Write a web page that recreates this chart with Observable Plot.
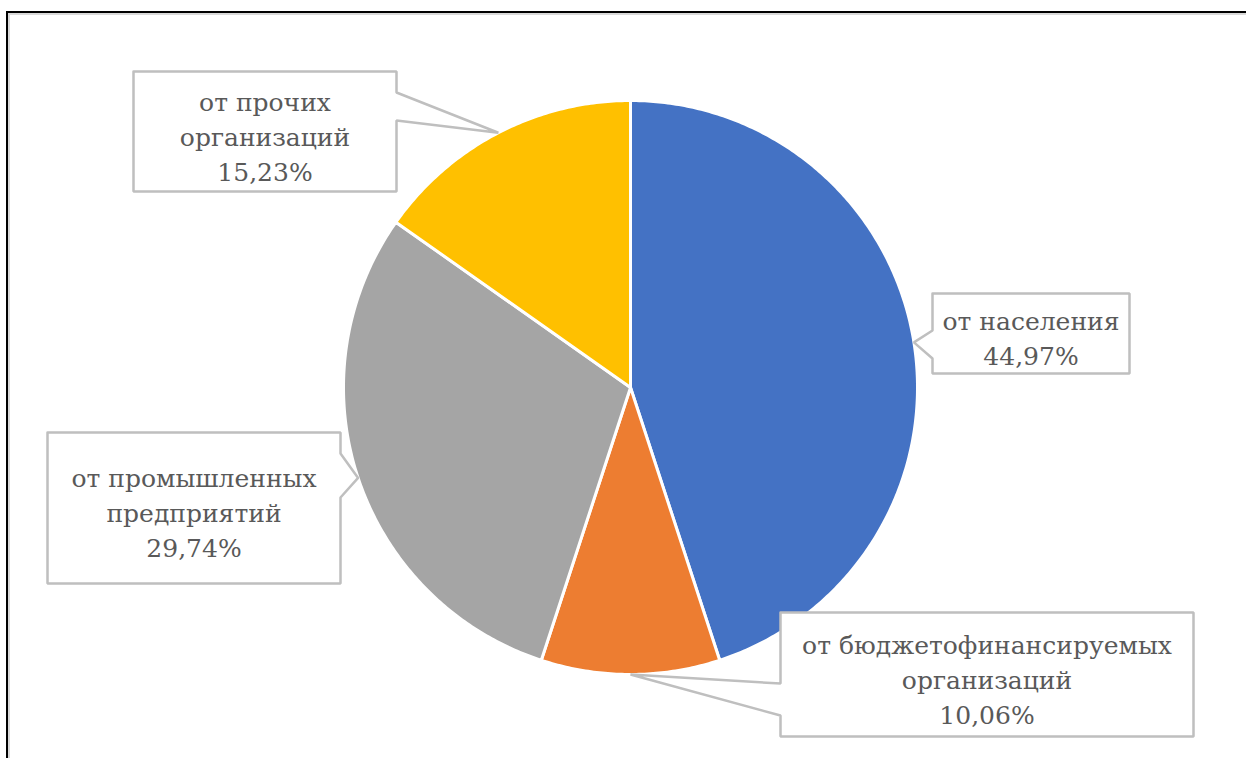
<!DOCTYPE html>
<html>
<head>
<meta charset="utf-8">
<script src="https://cdn.jsdelivr.net/npm/d3@7"></script>
<script src="https://cdn.jsdelivr.net/npm/@observablehq/plot@0.6"></script>
<style>
  html, body { margin: 0; padding: 0; background: #fff; overflow: hidden; }
  #wrap { position: relative; width: 1246px; height: 758px; }
  #frame { position: absolute; left: 6px; top: 11px; width: 1300px; height: 800px;
           border-left: 2px solid #000; border-top: 2px solid #000;
           box-shadow: inset 2px 2px 0 #d9d9d9; pointer-events: none; }
  #chart { position: absolute; left: 0; top: 0; }
  #chart svg text { font-family: "DejaVu Serif", serif !important; }
</style>
</head>
<body>
<div id="wrap">
  <div id="chart"></div>
  <div id="frame"></div>
</div>
<script>
// ---- data ----
const categories = ["от населения", "от бюджетофинансируемых организаций", "от промышленных предприятий", "от прочих организаций"];
const labelLines = ["от населения", "от бюджетофинансируемых\nорганизаций", "от промышленных\nпредприятий", "от прочих\nорганизаций"];
const values = [44.97, 10.06, 29.74, 15.23];
const colors = ["#4472C4", "#ED7D31", "#A5A5A5", "#FFC000"];

// ---- layout ----
const W = 1246, H = 758;
const cx = 630, cy = 387, R = 287;
const boxes = [
  {l: 932, t: 293, r: 1129, b: 373, side: "left",  p0: 330, p1: 358},
  {l: 780, t: 612, r: 1193, b: 736, side: "left",  p0: 683, p1: 715},
  {l: 47,  t: 432, r: 340,  b: 583, side: "right", p0: 453, p1: 497},
  {l: 133, t: 71,  r: 396,  b: 191, side: "right", p0: 92,  p1: 120}
];

const pie = d3.pie().sort(null).value(d => d)(values);
const pt = (a, r) => [cx + r * Math.sin(a), cy - r * Math.cos(a)];

const slicePts = [];
pie.forEach((s, i) => {
  const key = categories[i];
  slicePts.push({key, x: cx, y: cy});
  const n = Math.max(8, Math.ceil((s.endAngle - s.startAngle) / 0.01));
  for (let k = 0; k <= n; k++) {
    const a = s.startAngle + (s.endAngle - s.startAngle) * k / n;
    const [x, y] = pt(a, R);
    slicePts.push({key, x, y});
  }
  slicePts.push({key, x: cx, y: cy});
});

const calloutPts = [];
const labels = [];
pie.forEach((s, i) => {
  const key = categories[i];
  const b = boxes[i];
  const [tx, ty] = pt((s.startAngle + s.endAngle) / 2, R);
  let poly;
  if (b.side === "right") {
    poly = [[b.l, b.t], [b.r, b.t], [b.r, b.p0], [tx, ty], [b.r, b.p1], [b.r, b.b], [b.l, b.b], [b.l, b.t]];
  } else {
    poly = [[b.l, b.t], [b.r, b.t], [b.r, b.b], [b.l, b.b], [b.l, b.p1], [tx, ty], [b.l, b.p0], [b.l, b.t]];
  }
  poly.forEach(([x, y]) => calloutPts.push({key, x, y}));
  labels.push({
    key,
    x: (b.l + b.r) / 2,
    y: (b.t + b.b) / 2 + 3,
    text: labelLines[i] + "\n" + values[i].toFixed(2).replace(".", ",") + "%"
  });
});

const chart = Plot.plot({
  width: W,
  height: H,
  margin: 0,
  x: {domain: [0, W], range: [0, W], axis: null},
  y: {domain: [0, H], range: [0, H], axis: null},
  color: {domain: categories, range: colors},
  style: {background: "transparent"},
  marks: [
    Plot.line(slicePts, {x: "x", y: "y", z: "key", fill: "key", stroke: "white", strokeWidth: 3, strokeLinejoin: "round", curve: "linear"}),
    Plot.line(calloutPts, {x: "x", y: "y", z: "key", fill: "white", stroke: "#BFBFBF", strokeWidth: 2.5, strokeLinejoin: "miter", curve: "linear"}),
    Plot.text(labels, {x: "x", y: "y", text: "text", lineAnchor: "middle", lineHeight: 1.4, fontSize: 25, fill: "#595959", textAnchor: "middle"})
  ]
});
document.getElementById("chart").appendChild(chart);
</script>
</body>
</html>
